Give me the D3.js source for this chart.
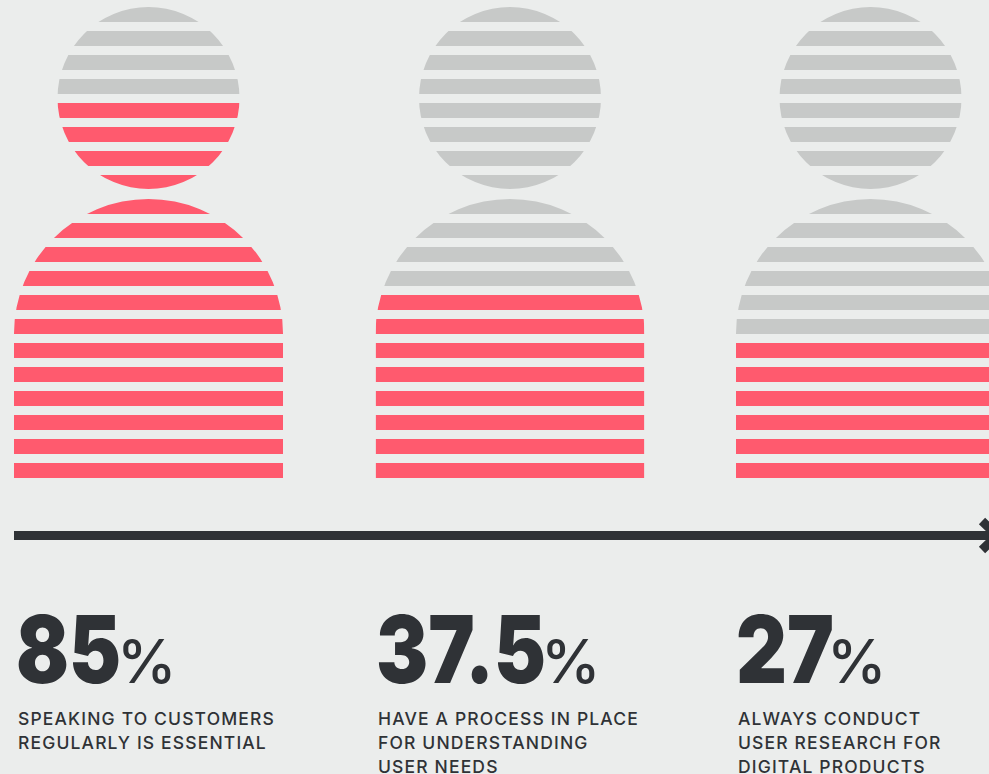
<!DOCTYPE html>
<html>
<head>
<meta charset="utf-8">
<script src="https://cdn.jsdelivr.net/npm/d3@7/dist/d3.min.js"></script>
<style>
html,body{margin:0;padding:0;background:#ebedec;overflow:hidden}
svg{display:block}
text{font-family:Inter,"Noto Sans",sans-serif;fill:#2f3236}
</style>
</head>
<body>
<div id="chart"></div>
<script>
// Survey results
const percents = [85, 37.5, 27];
const percentLabels = ["85", "37.5", "27"];
const filledStripes = [16, 8, 6];
const captions = [
  ["SPEAKING TO CUSTOMERS", "REGULARLY IS ESSENTIAL"],
  ["HAVE A PROCESS IN PLACE", "FOR UNDERSTANDING", "USER NEEDS"],
  ["ALWAYS CONDUCT", "USER RESEARCH FOR", "DIGITAL PRODUCTS"]
];
const stripeRows = d3.range(20);
const headRows = 8;

const W = 989, H = 774;
const RED = "#ff5a6e", GREY = "#c7c9c8", INK = "#2f3236";

const svg = d3.select("#chart").append("svg").attr("width", W).attr("height", H);
svg.append("rect").attr("width", W).attr("height", H).attr("fill", "#ebedec");

// Each figure occupies one column; rows are a fixed 24px pitch with 15px stripes
const xCol = d3.scaleOrdinal().domain(d3.range(3)).range([14, 375.5, 736]);
const yRow = d3.scaleLinear().domain([0, 20]).range([7, 487]);
const stripeH = 15, bodyW = 269, headR = 91;

const defs = svg.append("defs");
const figure = svg.selectAll("g.figure").data(percents).join("g")
  .attr("class", "figure")
  .attr("transform", (d, i) => `translate(${xCol(i)},0)`);

figure.each(function (d, i) {
  const g = d3.select(this);
  const id = `person-${i}`;
  const cx = bodyW / 2, top = yRow(0), bTop = yRow(headRows), bot = yRow(20) - 9, r = bodyW / 2;
  const clip = defs.append("clipPath").attr("id", id);
  clip.append("circle").attr("cx", cx).attr("cy", top + headR).attr("r", headR);
  clip.append("path").attr("d",
    `M0 ${bot}V${bTop + r}A${r} ${r} 0 0 1 ${bodyW} ${bTop + r}V${bot}Z`);
  const firstRed = stripeRows.length - filledStripes[i];
  g.append("g").attr("clip-path", `url(#${id})`).selectAll("rect")
    .data(stripeRows).join("rect")
    .attr("x", 0).attr("width", bodyW)
    .attr("y", k => yRow(k)).attr("height", stripeH)
    .attr("fill", k => k >= firstRed ? RED : GREY);
});

// Arrow running across the page
const arrow = svg.append("g").attr("fill", "none").attr("stroke", INK).attr("stroke-width", 9);
arrow.append("line").attr("x1", 14).attr("x2", 995).attr("y1", 535.5).attr("y2", 535.5);
arrow.append("path").attr("d", "M982 521L997 535.5L982 550");

// Big figures and captions
const textX = [18, 378, 738];
const numberWidths = [105, 170, 98];
const percentX = [99, 163, 89];
const block = svg.selectAll("g.stat").data(percentLabels).join("g")
  .attr("class", "stat")
  .attr("transform", (d, i) => `translate(${textX[i]},0)`);
const num = block.append("text").attr("y", 683);
num.append("tspan").attr("x", -2)
  .attr("font-size", 94).attr("font-weight", 900)
  .attr("textLength", (d, i) => numberWidths[i]).attr("lengthAdjust", "spacingAndGlyphs")
  .text(d => d);
num.append("tspan").attr("x", (d, i) => percentX[i])
  .attr("font-size", 60).attr("font-weight", 500)
  .text("%");
block.each(function (d, i) {
  d3.select(this).selectAll("text.cap").data(captions[i]).join("text")
    .attr("class", "cap")
    .attr("y", (c, j) => 725 + j * 24)
    .attr("font-size", 17.5).attr("font-weight", 500).attr("letter-spacing", 1.15)
    .text(c => c);
});
</script>
</body>
</html>
